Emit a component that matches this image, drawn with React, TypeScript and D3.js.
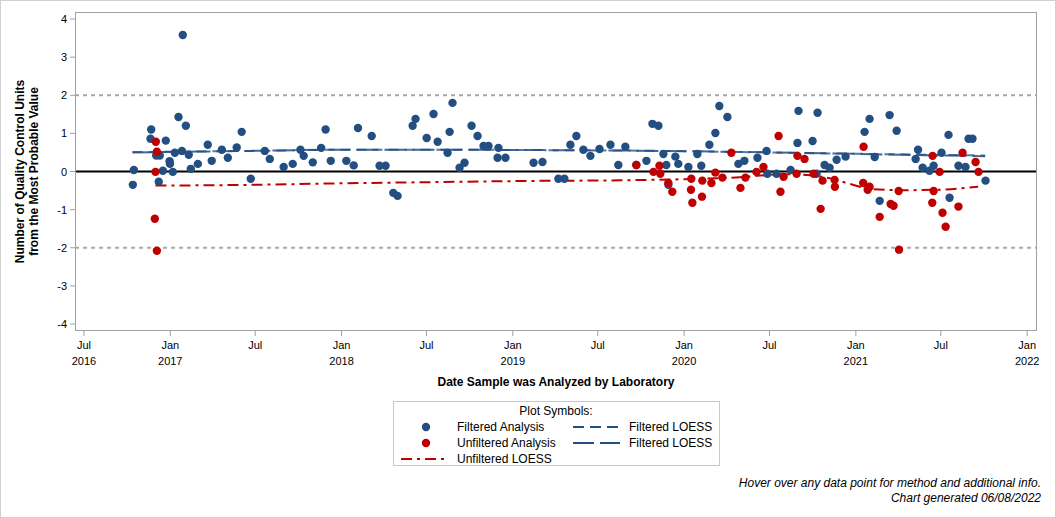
import React from "react";
import * as d3 from "d3";

// Dates as decimal years, values in QC units
const filteredDates = [2016.782,2016.788,2016.889,2016.885,2016.918,2016.939,2016.933,2016.957,2016.974,2016.996,2016.998,2017.015,2017.027,2017.048,2017.073,2017.068,2017.091,2017.108,2017.120,2017.161,2017.219,2017.242,2017.301,2017.336,2017.388,2017.417,2017.470,2017.552,2017.581,2017.662,2017.715,2017.760,2017.779,2017.832,2017.881,2017.907,2017.937,2018.028,2018.071,2018.096,2018.176,2018.222,2018.257,2018.302,2018.327,2018.415,2018.432,2018.497,2018.537,2018.561,2018.619,2018.631,2018.648,2018.689,2018.718,2018.759,2018.794,2018.829,2018.858,2018.916,2018.911,2018.957,2019.121,2019.173,2019.266,2019.301,2019.336,2019.371,2019.412,2019.453,2019.506,2019.570,2019.616,2019.657,2019.721,2019.780,2019.815,2019.850,2019.879,2019.896,2019.908,2019.949,2019.966,2020.025,2020.077,2020.100,2020.147,2020.182,2020.205,2020.252,2020.316,2020.351,2020.427,2020.480,2020.485,2020.538,2020.620,2020.660,2020.666,2020.748,2020.771,2020.777,2020.818,2020.847,2020.888,2020.940,2021.051,2021.080,2021.110,2021.139,2021.197,2021.238,2021.349,2021.363,2021.390,2021.430,2021.454,2021.500,2021.541,2021.547,2021.599,2021.640,2021.658,2021.681,2021.757];
const filteredValues = [-0.35,0.04,1.10,0.86,0.42,0.42,-0.27,0.02,0.81,0.27,0.20,-0.01,0.49,1.43,3.58,0.54,1.20,0.44,0.07,0.20,0.70,0.28,0.57,0.36,0.63,1.04,-0.19,0.54,0.33,0.12,0.20,0.57,0.41,0.24,0.62,1.10,0.28,0.28,0.16,1.14,0.93,0.15,0.15,-0.56,-0.64,1.20,1.38,0.88,1.51,0.78,0.49,1.04,1.80,0.10,0.23,1.20,0.93,0.67,0.67,0.62,0.36,0.36,0.23,0.25,-0.19,-0.19,0.70,0.93,0.57,0.41,0.59,0.70,0.17,0.65,0.17,0.28,1.25,1.20,0.46,0.17,-0.35,0.39,0.20,0.12,0.46,0.15,0.70,1.01,1.72,1.43,0.20,0.28,0.36,0.54,-0.06,-0.06,0.04,0.75,1.59,0.80,-0.06,1.54,0.17,0.10,0.31,0.39,1.04,1.38,0.38,-0.77,1.48,1.07,0.33,0.57,0.10,0.02,0.15,0.49,0.96,-0.69,0.15,0.12,0.86,0.86,-0.24];

const unfilteredDates = [2016.916,2016.922,2016.914,2016.910,2016.922,2019.721,2019.821,2019.856,2019.861,2019.908,2019.931,2020.042,2020.040,2020.048,2020.106,2020.104,2020.159,2020.182,2020.223,2020.275,2020.328,2020.357,2020.421,2020.462,2020.550,2020.561,2020.579,2020.655,2020.660,2020.701,2020.754,2020.795,2020.806,2020.876,2020.878,2021.045,2021.043,2021.069,2021.080,2021.139,2021.203,2021.220,2021.250,2021.252,2021.448,2021.446,2021.454,2021.489,2021.506,2021.524,2021.599,2021.623,2021.699,2021.716];
const unfilteredValues = [0.78,0.52,-0.01,-1.24,-2.08,0.17,-0.01,0.15,-0.06,-0.30,-0.53,-0.19,-0.48,-0.82,-0.24,-0.66,-0.30,-0.03,-0.16,0.49,-0.43,-0.16,-0.01,0.12,0.93,-0.53,-0.14,-0.06,0.41,0.33,-0.06,-0.98,-0.24,-0.22,-0.40,0.65,-0.30,-0.48,-0.40,-1.19,-0.85,-0.90,-0.51,-2.05,0.41,-0.82,-0.51,-0.01,-1.08,-1.45,-0.92,0.49,0.25,-0.01];

const loessFilteredDates = [2016.780,2017.468,2017.993,2018.635,2019.218,2019.626,2020.210,2020.909,2021.259,2021.755];
const loessFilteredA = [0.51,0.54,0.57,0.57,0.56,0.55,0.52,0.47,0.45,0.42];
const loessFilteredB = [0.50,0.54,0.57,0.57,0.56,0.55,0.52,0.47,0.44,0.40];

const loessUnfilteredDates = [2016.914,2017.468,2017.993,2018.518,2019.043,2019.626,2020.093,2020.326,2020.501,2020.618,2020.734,2020.851,2020.968,2021.084,2021.259,2021.464,2021.714];
const loessUnfilteredValues = [-0.37,-0.35,-0.31,-0.28,-0.25,-0.23,-0.19,-0.15,-0.09,-0.07,-0.10,-0.18,-0.33,-0.46,-0.49,-0.48,-0.40];

const yTicks = [4,3,2,1,0,-1,-2,-3,-4];
const xTickDates = ["2016-07-01","2017-01-01","2017-07-01","2018-01-01","2018-07-01","2019-01-01","2019-07-01","2020-01-01","2020-07-01","2021-01-01","2021-07-01","2022-01-01"];

const BLUE = "#224e82";
const RED = "#c00000";
const FONT = "Arial, 'Liberation Sans', sans-serif";

function decToDate(d: number): Date {
  const y = Math.floor(d);
  const s = new Date(y, 0, 1).getTime();
  const e = new Date(y + 1, 0, 1).getTime();
  return new Date(s + (d - y) * (e - s));
}

export default function App() {
  const W = 1056, H = 518;
  const L = 75, R = 1037, T = 12, B = 331;
  const x = d3.scaleTime()
    .domain([new Date(2016, 5, 12), new Date(2022, 0, 22)])
    .range([L, R]);
  const y = d3.scaleLinear().domain([-4.2, 4.2]).range([B - 0.8, T + 0.8]);
  const yy = d3.scaleLinear().domain([-4, 4]).range([324, 19]);

  const line = d3.line<[number, number]>()
    .x((d) => x(decToDate(d[0])))
    .y((d) => yy(d[1]))
    .curve(d3.curveMonotoneX);

  const fA = line(loessFilteredDates.map((d, i) => [d, loessFilteredA[i]]) as [number, number][]) || "";
  const fB = line(loessFilteredDates.map((d, i) => [d, loessFilteredB[i]]) as [number, number][]) || "";
  const uL = line(loessUnfilteredDates.map((d, i) => [d, loessUnfilteredValues[i]]) as [number, number][]) || "";

  const monthFmt = d3.timeFormat("%b");
  const yearFmt = d3.timeFormat("%Y");

  return (
    <svg width={W} height={H} style={{ display: "block", position: "absolute", left: 0, top: 0 }} fontFamily={FONT}>
      <rect x={0.5} y={0.5} width={W - 1} height={H - 1} fill="#fff" stroke="#d0d0d0" />
      <clipPath id="plotclip"><rect x={L} y={T} width={R - L} height={B - T} /></clipPath>
      {/* reference lines */}
      <line x1={L} x2={R} y1={yy(2)} y2={yy(2)} stroke="#a8a8a8" strokeWidth={2} strokeDasharray="4,4" />
      <line x1={L} x2={R} y1={yy(-2)} y2={yy(-2)} stroke="#a8a8a8" strokeWidth={2} strokeDasharray="4,4" />
      <line x1={L} x2={R} y1={yy(0)} y2={yy(0)} stroke="#000" strokeWidth={2} />
      <g clipPath="url(#plotclip)">
        <path d={fA} fill="none" stroke={BLUE} strokeWidth={2} strokeDasharray="10,6" opacity={0.75} />
        <path d={fB} fill="none" stroke={BLUE} strokeWidth={2} strokeDasharray="22,6" opacity={0.85} />
        <path d={uL} fill="none" stroke={RED} strokeWidth={2} strokeDasharray="11,5,3,5" />
        {filteredDates.map((d, i) => (
          <circle key={"f" + i} cx={x(decToDate(d))} cy={yy(filteredValues[i])} r={4.2} fill={BLUE} />
        ))}
        {unfilteredDates.map((d, i) => (
          <circle key={"u" + i} cx={x(decToDate(d))} cy={yy(unfilteredValues[i])} r={4.2} fill={RED} />
        ))}
      </g>
      {/* frame */}
      <rect x={L + 0.5} y={T + 0.5} width={R - L - 1} height={B - T - 1} fill="none" stroke="#a0a0a0" />
      {/* y axis */}
      {yTicks.map((t) => (
        <g key={"yt" + t}>
          <line x1={L - 5} x2={L} y1={yy(t)} y2={yy(t)} stroke="#a0a0a0" />
          <text x={L - 8} y={yy(t) + 4} fontSize={11} textAnchor="end" fill="#000">{t}</text>
        </g>
      ))}
      <text transform={`translate(24,${yy(0)}) rotate(-90)`} fontSize={12} fontWeight="bold" textAnchor="middle">Number of Quality Control Units</text>
      <text transform={`translate(38,${yy(0)}) rotate(-90)`} fontSize={12} fontWeight="bold" textAnchor="middle">from the Most Probable Value</text>
      {/* x axis */}
      {xTickDates.map((s) => {
        const dt = d3.timeParse("%Y-%m-%d")(s) as Date;
        const px = x(dt);
        return (
          <g key={s}>
            <line x1={px} x2={px} y1={B} y2={B + 5} stroke="#a0a0a0" />
            <text x={px} y={349} fontSize={11} textAnchor="middle">{monthFmt(dt)}</text>
            {dt.getMonth() === 0 || s === "2016-07-01" ? (
              <text x={px} y={365} fontSize={11} textAnchor="middle">{yearFmt(dt)}</text>
            ) : null}
          </g>
        );
      })}
      <text x={(L + R) / 2} y={386} fontSize={12} fontWeight="bold" textAnchor="middle">Date Sample was Analyzed by Laboratory</text>
      {/* legend */}
      <rect x={393.5} y={401.5} width={326} height={64} fill="#fff" stroke="#c8c8c8" />
      <text x={556} y={415} fontSize={12} textAnchor="middle">Plot Symbols:</text>
      <circle cx={426} cy={427} r={4.2} fill={BLUE} />
      <text x={457} y={431} fontSize={12}>Filtered Analysis</text>
      <circle cx={426} cy={443} r={4.2} fill={RED} />
      <text x={457} y={447} fontSize={12}>Unfiltered Analysis</text>
      <line x1={401} x2={449} y1={459} y2={459} stroke={RED} strokeWidth={2} strokeDasharray="11,5,3,5" />
      <text x={457} y={463} fontSize={12}>Unfiltered LOESS</text>
      <line x1={573} x2={620} y1={427} y2={427} stroke={BLUE} strokeWidth={2} strokeDasharray="11,6" />
      <text x={629} y={431} fontSize={12}>Filtered LOESS</text>
      <line x1={573} x2={620} y1={443} y2={443} stroke={BLUE} strokeWidth={2} strokeDasharray="21,6" />
      <text x={629} y={447} fontSize={12}>Filtered LOESS</text>
      {/* footnotes */}
      <text x={1041} y={487} fontSize={12} fontStyle="italic" textAnchor="end">Hover over any data point for method and additional info.</text>
      <text x={1041} y={502} fontSize={12} fontStyle="italic" textAnchor="end">Chart generated 06/08/2022</text>
    </svg>
  );
}
